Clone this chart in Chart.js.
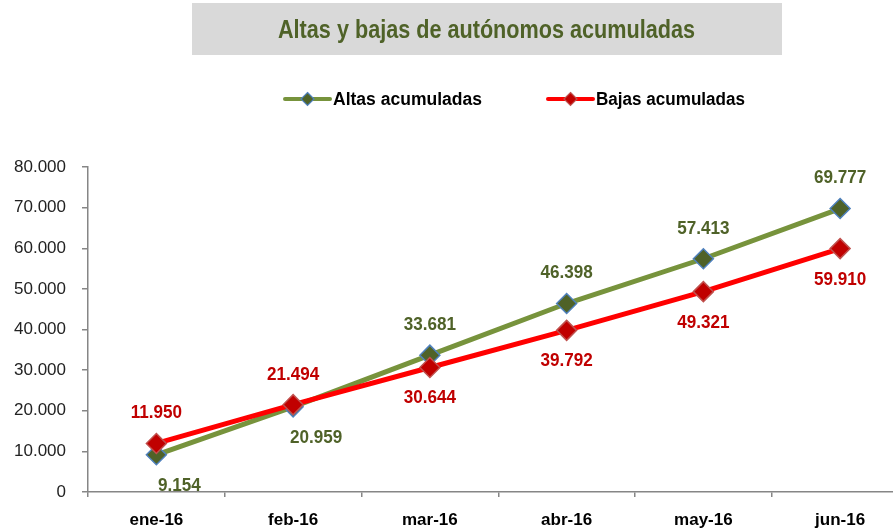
<!DOCTYPE html>
<html>
<head>
<meta charset="utf-8">
<script src="https://cdn.jsdelivr.net/npm/chart.js@4/dist/chart.umd.min.js"></script>
<style>
html,body{margin:0;padding:0;background:#fff;overflow:hidden;width:893px;height:529px;}
#c{position:absolute;left:0;top:0;}
</style>
</head>
<body>
<canvas id="c" width="920" height="529"></canvas>
<script>
const categories = ['ene-16','feb-16','mar-16','abr-16','may-16','jun-16'];
const altas = [9154, 20959, 33681, 46398, 57413, 69777];
const bajas = [11950, 21494, 30644, 39792, 49321, 59910];
const seriesNames = ['Altas acumuladas', 'Bajas acumuladas'];
const titleText = 'Altas y bajas de autónomos acumuladas';
// label placement: 1 = above, -1 = below
const altasLabelPos = [-1, -1, 1, 1, 1, 1];
const bajasLabelPos = [1, 1, -1, -1, -1, -1];

const GREEN_LINE = '#77933c', GREEN_DARK = '#4f6228', BLUE_EDGE = '#4f81bd';
const RED_LINE = '#ff0000', RED_DARK = '#c00000', RED_EDGE = '#c0504d';
const FONT = '"Liberation Sans", Arial, sans-serif';

function fmt(v){ return String(v).replace(/\B(?=(\d{3})+(?!\d))/g, '.'); }

function diamond(ctx, x, y, r, fill, stroke, lw){
  ctx.beginPath();
  ctx.moveTo(x, y - r); ctx.lineTo(x + r, y); ctx.lineTo(x, y + r); ctx.lineTo(x - r, y); ctx.closePath();
  ctx.fillStyle = fill; ctx.fill();
  ctx.lineWidth = lw; ctx.strokeStyle = stroke; ctx.stroke();
}

function squeezedText(ctx, text, x, y, targetW){
  const w = ctx.measureText(text).width;
  ctx.save();
  ctx.translate(x, y);
  ctx.scale(targetW / w, 1);
  ctx.fillText(text, 0, 0);
  ctx.restore();
}

const decor = {
  id: 'decor',
  afterDraw(chart){
    const ctx = chart.ctx;
    ctx.save();
    // title box
    ctx.fillStyle = '#d9d9d9';
    ctx.fillRect(192, 3, 590, 52);
    ctx.fillStyle = GREEN_DARK;
    ctx.font = 'bold 25px ' + FONT;
    ctx.textBaseline = 'middle';
    ctx.textAlign = 'left';
    squeezedText(ctx, titleText, 278, 31, 417);

    // legend
    const ly = 99;
    const items = [
      {x0: 285, x1: 330, name: seriesNames[0], line: GREEN_LINE, fill: GREEN_DARK, edge: BLUE_EDGE},
      {x0: 548, x1: 593, name: seriesNames[1], line: RED_LINE, fill: RED_DARK, edge: RED_EDGE}
    ];
    items.forEach(it => {
      ctx.beginPath(); ctx.moveTo(it.x0, ly); ctx.lineTo(it.x1, ly);
      ctx.lineWidth = 4; ctx.strokeStyle = it.line; ctx.lineCap = 'round'; ctx.stroke();
      diamond(ctx, (it.x0 + it.x1)/2, ly, 6.5, it.fill, it.edge, 1.2);
      ctx.fillStyle = '#000';
      ctx.font = 'bold 18px ' + FONT;
      ctx.textBaseline = 'middle';
      squeezedText(ctx, it.name, it.x1 + 3, ly + 1, 149);
    });

    // data labels
    ctx.font = 'bold 18px ' + FONT;
    ctx.textAlign = 'left';
    ctx.textBaseline = 'middle';
    const sets = [
      {meta: chart.getDatasetMeta(0), data: altas, pos: altasLabelPos, color: GREEN_DARK},
      {meta: chart.getDatasetMeta(1), data: bajas, pos: bajasLabelPos, color: RED_DARK}
    ];
    sets.forEach(s => {
      s.meta.data.forEach((pt, i) => {
        ctx.fillStyle = s.color;
        const txt = fmt(s.data[i]);
        const tw = ctx.measureText(txt).width * 0.95;
        const dy = s.pos[i] > 0 ? -30 : 31;
        const cx = pt.x + ((s.pos[i] < 0 && i < 2) ? 23 : 0);
        squeezedText(ctx, txt, cx - tw/2, pt.y + dy, tw);
      });
    });
    ctx.restore();
  }
};

new Chart(document.getElementById('c'), {
  type: 'line',
  data: {
    labels: categories,
    datasets: [
      {label: seriesNames[0], data: altas, borderColor: GREEN_LINE, borderWidth: 5, pointStyle: 'rectRot', pointRadius: 10, pointBackgroundColor: GREEN_DARK, pointBorderColor: BLUE_EDGE, pointBorderWidth: 1.5, tension: 0, order: 2},
      {label: seriesNames[1], data: bajas, borderColor: RED_LINE, borderWidth: 5, pointStyle: 'rectRot', pointRadius: 10, pointBackgroundColor: RED_DARK, pointBorderColor: RED_EDGE, pointBorderWidth: 1.5, tension: 0, order: 1}
    ]
  },
  options: {
    responsive: false,
    devicePixelRatio: 1,
    animation: false,
    layout: {padding: {top: 167, right: 4, bottom: 0, left: 0}},
    plugins: {legend: {display: false}, title: {display: false}, tooltip: {enabled: false}},
    scales: {
      x: {
        offset: true,
        grid: {display: true, drawOnChartArea: false, offset: true, tickLength: 5, color: '#868686', lineWidth: 1.5},
        border: {display: true, color: '#868686', width: 1.5},
        ticks: {color: '#000', font: {family: FONT, size: 17, weight: 'bold'}, padding: 13, maxRotation: 0},
        afterFit(s){ s.height = 37; }
      },
      y: {
        min: 0, max: 80000,
        grid: {display: true, drawOnChartArea: false, tickLength: 6, color: '#868686', lineWidth: 1.5},
        border: {display: true, color: '#868686', width: 1.5},
        ticks: {stepSize: 10000, color: '#222', font: {family: FONT, size: 17}, padding: 16, callback: v => fmt(v)},
        afterFit(s){ s.width = 88; }
      }
    }
  },
  plugins: [decor]
});
</script>
</body>
</html>
